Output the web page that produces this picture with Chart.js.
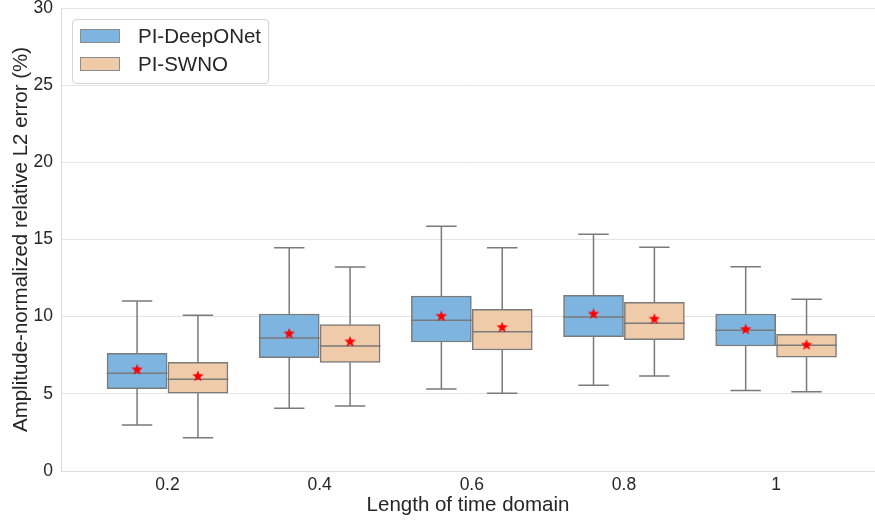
<!DOCTYPE html>
<html>
<head>
<meta charset="utf-8">
<script src="https://cdn.jsdelivr.net/npm/chart.js@4.4.1/dist/chart.umd.min.js"></script>
<style>
  html, body { margin: 0; padding: 0; background: #fff; }
  #wrap { position: relative; width: 875px; height: 523px; }
  #legend {
    position: absolute; left: 72px; top: 19px; width: 197px; height: 65px;
    box-sizing: border-box; border: 1px solid #d4d4d4; border-radius: 4px;
    background: rgba(255,255,255,0.85);
    font-family: 'Liberation Sans', Arial, sans-serif; font-size: 20.5px; color: #262626;
  }
  .item { position: absolute; left: 7px; height: 24px; display: flex; align-items: center; }
  .sw { width: 40px; height: 14px; box-sizing: border-box; border: 1px solid #8c8c8c; margin-right: 18px; }
</style>
</head>
<body>
<div id="wrap">
  <canvas id="c" width="875" height="523"></canvas>
  <div id="legend"></div>
</div>
<script>
// Box-plot summaries per time-domain length (values in %)
const categories = ['0.2', '0.4', '0.6', '0.8', '1'];

const deepLow  = [2.98, 4.06, 5.31, 5.55, 5.21];
const deepQ1   = [5.33, 7.34, 8.36, 8.70, 8.10];
const deepMed  = [6.33, 8.62, 9.77, 9.98, 9.12];
const deepQ3   = [7.63, 10.17, 11.34, 11.39, 10.17];
const deepHigh = [11.02, 14.47, 15.86, 15.34, 13.24];
const deepMean = [6.59, 8.92, 10.05, 10.20, 9.20];

const swnoLow  = [2.16, 4.21, 5.03, 6.16, 5.14];
const swnoQ1   = [5.04, 7.04, 7.84, 8.51, 7.37];
const swnoMed  = [5.94, 8.10, 9.03, 9.57, 8.15];
const swnoQ3   = [7.04, 9.48, 10.48, 10.93, 8.86];
const swnoHigh = [10.09, 13.22, 14.47, 14.50, 11.13];
const swnoMean = [6.16, 8.40, 9.33, 9.87, 8.19];

const seriesNames = ['PI-DeepONet', 'PI-SWNO'];
const yTicks = [0, 5, 10, 15, 20, 25, 30];

// styling
const FONT = "'Liberation Sans', Arial, sans-serif";
const TEXT = '#262626';
const LINE = '#7a7a7a';
const fills = ['#7db4e0', '#f0cbaa'];
const BOX_HALF = 0.2;   // half box width in category units
const CAP_HALF = 0.1;   // half whisker-cap width

// filled five-point star used for the mean markers
function makeStar(size, color) {
  const cv = document.createElement('canvas');
  cv.width = size; cv.height = size;
  const g = cv.getContext('2d');
  const cx = size / 2, cy = size / 2 + 0.4, R = size / 2, r = R * 0.42;
  g.beginPath();
  for (let i = 0; i < 10; i++) {
    const rad = i % 2 === 0 ? R : r;
    const a = -Math.PI / 2 + i * Math.PI / 5;
    g.lineTo(cx + rad * Math.cos(a), cy + rad * Math.sin(a));
  }
  g.closePath();
  g.fillStyle = color;
  g.fill();
  return cv;
}
const star = makeStar(12, '#ff0000');

function boxData(offset, q1, q3) {
  return categories.map((_, i) => ({ x: i + offset, y: [q1[i], q3[i]] }));
}
// whiskers, caps and medians as broken line segments
function lineData(offset, low, q1, med, q3, high) {
  const pts = [];
  const gap = (x) => pts.push({ x: x, y: null });
  categories.forEach((_, i) => {
    const c = i + offset;
    pts.push({ x: c, y: low[i] }, { x: c, y: q1[i] }); gap(c);
    pts.push({ x: c, y: q3[i] }, { x: c, y: high[i] }); gap(c);
    pts.push({ x: c - CAP_HALF, y: low[i] }, { x: c + CAP_HALF, y: low[i] }); gap(c);
    pts.push({ x: c - CAP_HALF, y: high[i] }, { x: c + CAP_HALF, y: high[i] }); gap(c);
    pts.push({ x: c - BOX_HALF, y: med[i] }, { x: c + BOX_HALF, y: med[i] }); gap(c);
  });
  return pts;
}
function meanData(offset, mean) {
  return categories.map((_, i) => ({ x: i + offset, y: mean[i] }));
}

const groups = [
  { off: -0.2, low: deepLow, q1: deepQ1, med: deepMed, q3: deepQ3, high: deepHigh, mean: deepMean },
  { off: 0.2, low: swnoLow, q1: swnoQ1, med: swnoMed, q3: swnoQ3, high: swnoHigh, mean: swnoMean }
];

const datasets = [];
groups.forEach((g, k) => {
  datasets.push({
    type: 'bar', label: seriesNames[k], data: boxData(g.off, g.q1, g.q3),
    backgroundColor: fills[k], borderColor: LINE, borderWidth: 1.5, borderSkipped: false,
    barThickness: 60, grouped: false, order: 3
  });
  datasets.push({
    type: 'line', label: seriesNames[k] + ' whiskers', data: lineData(g.off, g.low, g.q1, g.med, g.q3, g.high),
    borderColor: LINE, borderWidth: 1.5, pointRadius: 0, spanGaps: false, fill: false, order: 2
  });
  datasets.push({
    type: 'scatter', label: seriesNames[k] + ' mean', data: meanData(g.off, g.mean),
    pointStyle: star, pointRadius: 6, order: 1
  });
});

new Chart(document.getElementById('c'), {
  type: 'bar',
  data: { datasets: datasets },
  options: {
    responsive: false,
    animation: false,
    layout: { autoPadding: false, padding: { top: 8, right: 0, left: 0, bottom: 0 } },
    plugins: { legend: { display: false }, tooltip: { enabled: false } },
    scales: {
      x: {
        type: 'linear', min: -0.7, max: 4.65, offset: false,
        grid: { display: false, drawTicks: false },
        border: { display: true, color: '#dcdcdc', width: 1 },
        afterBuildTicks: (s) => { s.ticks = categories.map((_, i) => ({ value: i })); },
        ticks: {
          callback: (v) => categories[v] !== undefined ? categories[v] : '',
          color: TEXT, font: { family: FONT, size: 17.5 }, padding: 4, maxRotation: 0, autoSkip: false
        },
        title: { display: true, text: 'Length of time domain', color: TEXT,
                 font: { family: FONT, size: 20.5 }, padding: { top: 0, bottom: 5 } },
        afterFit: (s) => { s.height = 52; s.paddingLeft = 0; s.paddingRight = 0; }
      },
      y: {
        type: 'linear', min: 0, max: 30,
        afterBuildTicks: (s) => { s.ticks = yTicks.map(v => ({ value: v })); },
        grid: { color: '#e4e4e4', lineWidth: 1, drawTicks: false },
        border: { display: true, color: '#dcdcdc', width: 1 },
        ticks: { color: TEXT, font: { family: FONT, size: 17.5 }, padding: 8 },
        title: { display: true, text: 'Amplitude-normalized relative L2 error (%)', color: TEXT,
                 font: { family: FONT, size: 20.5 }, padding: { top: 9, bottom: 0 } },
        afterFit: (s) => { s.width = 61; s.paddingTop = 0; s.paddingBottom = 0; }
      }
    }
  }
});

// legend entries for the two box series
const legend = document.getElementById('legend');
seriesNames.forEach((name, k) => {
  const it = document.createElement('div');
  it.className = 'item';
  it.style.top = (k === 0 ? 4 : 32) + 'px';
  const sw = document.createElement('span');
  sw.className = 'sw';
  sw.style.background = fills[k];
  const tx = document.createElement('span');
  tx.textContent = name;
  it.appendChild(sw); it.appendChild(tx);
  legend.appendChild(it);
});
</script>
</body>
</html>
